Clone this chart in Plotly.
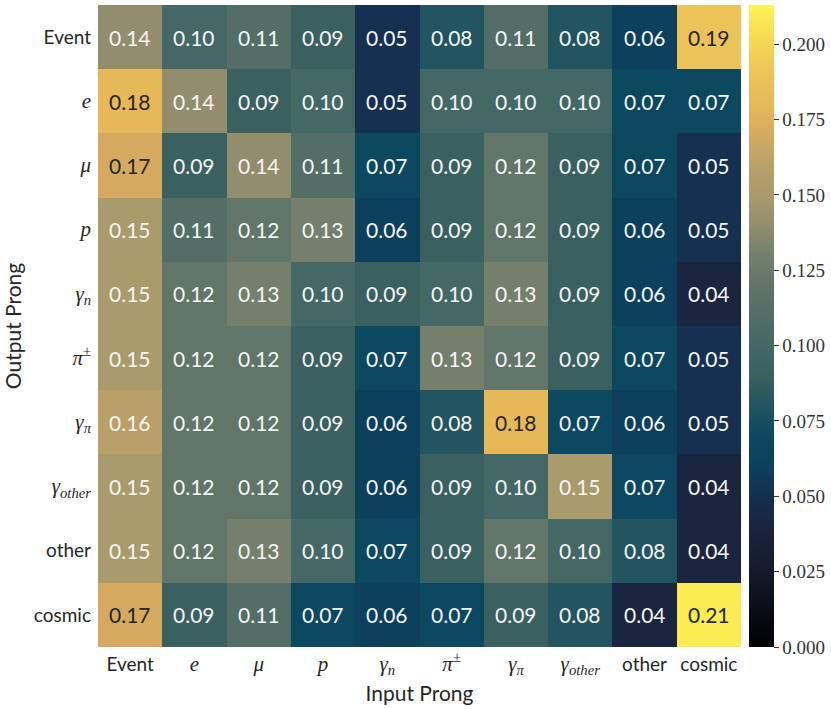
import plotly.graph_objects as go

# prong labels (input = columns, output = rows)
prongs = ["Event", "e", "mu", "p", "gamma_n", "pi_pm", "gamma_pi", "gamma_other", "other", "cosmic"]

def math(s):
    return "<span style=\"font-family:Liberation Serif;font-size:21px\">" + s + "</span>"

prong_ticktext = [
    "Event",
    math("<i>e</i>"),
    math("<i>μ</i>"),
    math("<i>p</i>"),
    math("<i>γ</i><sub><i>n</i></sub>"),
    math("<i>π</i><sup>±</sup>"),
    math("<i>γ</i><sub><i>π</i></sub>"),
    math("<i>γ</i><sub><i>other</i></sub>"),
    "other",
    "cosmic",
]

# fraction matrix, row = output prong, column = input prong
row_event = [0.14, 0.10, 0.11, 0.09, 0.05, 0.08, 0.11, 0.08, 0.06, 0.19]
row_e = [0.18, 0.14, 0.09, 0.10, 0.05, 0.10, 0.10, 0.10, 0.07, 0.07]
row_mu = [0.17, 0.09, 0.14, 0.11, 0.07, 0.09, 0.12, 0.09, 0.07, 0.05]
row_p = [0.15, 0.11, 0.12, 0.13, 0.06, 0.09, 0.12, 0.09, 0.06, 0.05]
row_gamma_n = [0.15, 0.12, 0.13, 0.10, 0.09, 0.10, 0.13, 0.09, 0.06, 0.04]
row_pi = [0.15, 0.12, 0.12, 0.09, 0.07, 0.13, 0.12, 0.09, 0.07, 0.05]
row_gamma_pi = [0.16, 0.12, 0.12, 0.09, 0.06, 0.08, 0.18, 0.07, 0.06, 0.05]
row_gamma_other = [0.15, 0.12, 0.12, 0.09, 0.06, 0.09, 0.10, 0.15, 0.07, 0.04]
row_other = [0.15, 0.12, 0.13, 0.10, 0.07, 0.09, 0.12, 0.10, 0.08, 0.04]
row_cosmic = [0.17, 0.09, 0.11, 0.07, 0.06, 0.07, 0.09, 0.08, 0.04, 0.21]

z = [row_event, row_e, row_mu, row_p, row_gamma_n, row_pi,
     row_gamma_pi, row_gamma_other, row_other, row_cosmic]

zmax = 0.213
cbar_ticks = [0.0, 0.025, 0.05, 0.075, 0.1, 0.125, 0.15, 0.175, 0.2]

# black -> navy -> teal -> olive -> gold -> yellow
colorscale = [
    [0.0, "#000000"], [0.06, "#0b0e16"], [0.12, "#161c2c"], [0.19, "#1a2540"],
    [0.235, "#153050"], [0.28, "#0c405c"], [0.33, "#0c4860"], [0.38, "#245660"],
    [0.42, "#3a6060"], [0.47, "#446866"], [0.56, "#607468"], [0.61, "#74806c"],
    [0.66, "#948e6c"], [0.70, "#a89a6c"], [0.75, "#b8a068"], [0.80, "#d6aa60"],
    [0.845, "#e6b858"], [0.89, "#ecc258"], [0.95, "#f6da54"], [1.0, "#fff352"],
]

idx = list(range(len(prongs)))

fig = go.Figure(go.Heatmap(
    z=z, x=idx, y=idx,
    zmin=0, zmax=zmax,
    colorscale=colorscale,
    colorbar=dict(
        x=1.0125, xanchor="left", y=0.5, yanchor="middle",
        len=1.0, lenmode="fraction", thickness=25,
        xpad=0, ypad=0, outlinewidth=0,
        tickvals=cbar_ticks,
        ticktext=[f"{t:.3f}" for t in cbar_ticks],
        ticks="outside", ticklen=5, tickcolor="#333",
        tickfont=dict(family="Liberation Serif", size=19, color="#333"),
    ),
    hoverinfo="skip",
))

# cell labels
for i, row in enumerate(z):
    for j, v in enumerate(row):
        fig.add_annotation(
            x=j, y=i, text=f"{v:.2f}", showarrow=False,
            font=dict(family="Lato", size=21,
                      color="#262626" if v > 0.165 else "#f5f5f5"),
        )

fig.update_layout(
    width=831, height=709,
    margin=dict(l=98, r=90, t=5, b=62, autoexpand=False),
    paper_bgcolor="white", plot_bgcolor="white",
    font=dict(family="Lato", color="#262626"),
    xaxis=dict(
        tickvals=idx, ticktext=prong_ticktext, showgrid=False, zeroline=False,
        ticks="", tickfont=dict(size=19), ticklabelstandoff=4, automargin=False,
        title=dict(text="Input Prong", font=dict(size=21), standoff=8),
    ),
    yaxis=dict(
        tickvals=idx, ticktext=prong_ticktext, showgrid=False, zeroline=False,
        autorange="reversed", ticks="", tickfont=dict(size=19),
        ticklabelstandoff=6, automargin=False,
        title=dict(text="Output Prong", font=dict(size=21), standoff=12),
    ),
)

# drop the default page margin so the figure sits at the window corner
fig.write_html("out.html", config={"displayModeBar": False},
               post_script="document.body.style.margin='0';")
